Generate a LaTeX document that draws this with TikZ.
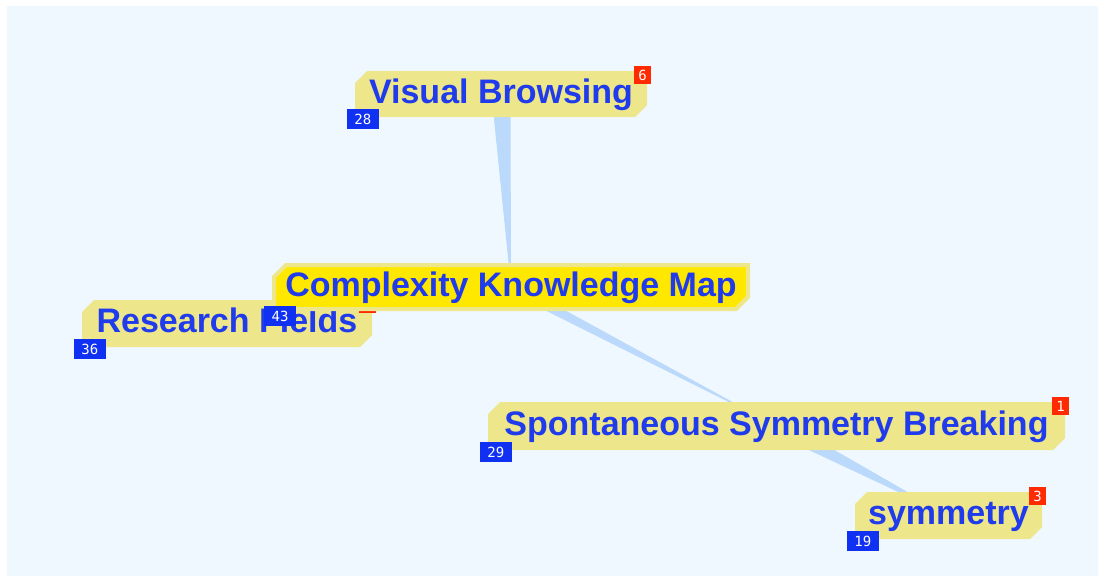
\documentclass[tikz,border=0pt]{standalone}
\usepackage{fontspec}
\setmainfont{Liberation Sans}
\newfontfamily\countfont{DejaVu Sans Mono}
\usetikzlibrary{shapes.misc,calc,backgrounds}

\definecolor{mapbg}{HTML}{F0F8FF}
\definecolor{topicfill}{HTML}{EDE68A}
\definecolor{mapfill}{HTML}{FFE800}
\definecolor{topictext}{HTML}{1F3BEB}
\definecolor{cntblue}{HTML}{1030F2}
\definecolor{cntred}{HTML}{FF2A00}
\definecolor{linkblue}{HTML}{BBD9FA}

\tikzset{
  topic/.style={chamfered rectangle,chamfered rectangle corners={north west,south east},
    chamfered rectangle xsep=6pt,chamfered rectangle ysep=6pt,inner sep=0pt,
    text height=25pt,text depth=7pt,
    fill=topicfill,text=topictext,font=\fontsize{34}{36}\selectfont\bfseries},
  maptopic/.style={topic,fill=mapfill,draw=topicfill,line width=4pt},
  cnt/.style={fill=cntblue,text=white,inner sep=0pt,minimum width=32pt,minimum height=20pt,
    font=\countfont\fontsize{14}{14}\selectfont},
  newcnt/.style={cnt,fill=cntred,minimum width=17pt,minimum height=18pt},
  link/.style={fill=linkblue}
}

% tapered connector: wide at the first node, pointed at the second
\newcommand\taperlink[3]{%
  \fill[link] ($(#1.center)!#3!90:(#2.center)$) -- ($(#1.center)!#3!-90:(#2.center)$) -- (#2.center) -- cycle;}

\begin{document}
\begin{tikzpicture}[x=1pt,y=-1pt]
  \useasboundingbox (0,0) rectangle (1104,578);

  \node[topic,minimum width=292pt,minimum height=46pt] (visual) at (501,94) {Visual Browsing};
  \node[newcnt] (visual-r) at ([xshift=-4.5pt,yshift=-4.5pt]visual.north east) {6};
  \node[cnt] (visual-n) at ([xshift=8pt,yshift=-2pt]visual.south west) {28};

  \node[topic,minimum width=290pt,minimum height=47pt] (research) at (227,323.5) {Research Fields};
  \node[newcnt] (research-r) at ([xshift=-4.5pt,yshift=-4.5pt]research.north east) {};
  \node[cnt] (research-n) at ([xshift=8pt,yshift=-2pt]research.south west) {36};

  \node[maptopic,minimum width=474pt,minimum height=42pt] (map) at (511,287) {Complexity Knowledge Map};
  \node[cnt] (map-n) at ([xshift=8pt,yshift=-5pt]map.south west) {43};

  \node[topic,minimum width=577pt,minimum height=48pt] (spont) at (776.5,426) {Spontaneous Symmetry Breaking};
  \node[newcnt] (spont-r) at ([xshift=-4.5pt,yshift=-4.5pt]spont.north east) {1};
  \node[cnt] (spont-n) at ([xshift=8pt,yshift=-2pt]spont.south west) {29};

  \node[topic,minimum width=187pt,minimum height=47pt] (symm) at (948.5,515.5) {symmetry};
  \node[newcnt] (symm-r) at ([xshift=-4.5pt,yshift=-4.5pt]symm.north east) {3};
  \node[cnt] (symm-n) at ([xshift=8pt,yshift=-2pt]symm.south west) {19};

  \begin{scope}[on background layer]
    \fill[mapbg] (7,6) rectangle (1098,576);
    \taperlink{visual}{map}{9.5pt}
    \taperlink{map}{spont}{5.5pt}
    \taperlink{spont}{symm}{8pt}
  \end{scope}
\end{tikzpicture}
\end{document}
